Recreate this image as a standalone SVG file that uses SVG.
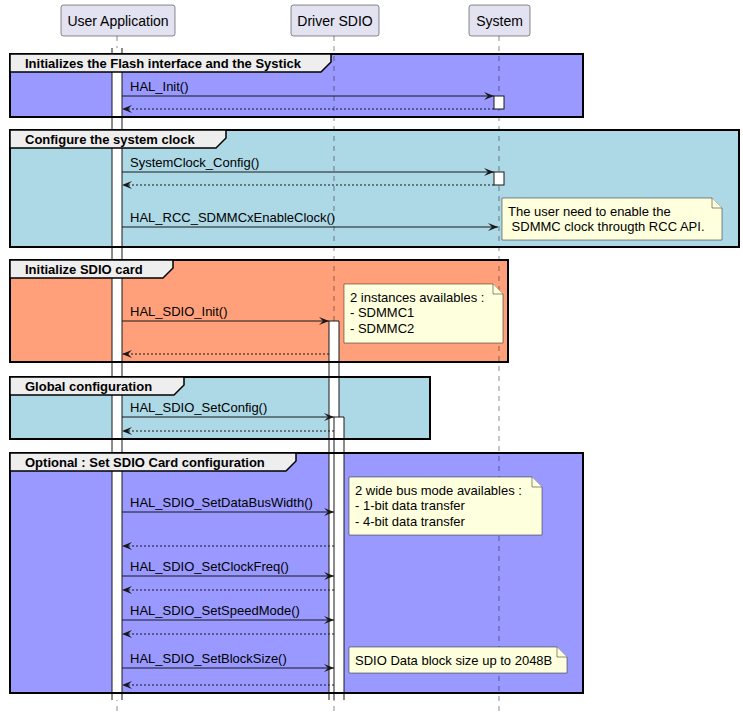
<svg xmlns="http://www.w3.org/2000/svg" width="743" height="716" viewBox="0 0 743 716">
<style>
text{font-family:"Liberation Sans",Arial,sans-serif;fill:#000}
.pt{font-size:14px;text-anchor:middle}
.msg{font-size:13px}
.gh{font-size:13px;font-weight:bold}
.nt{font-size:13px}
.part{fill:#E2E2F0;stroke:#181818;stroke-width:0.5}
.life{stroke:#181818;stroke-width:0.5;stroke-dasharray:5,5;fill:none}
.bar{fill:#FFFFFF;stroke:#181818;stroke-width:1}
.barfill{fill:#FFFFFF;stroke:none}
.bedge{stroke:#181818;stroke-width:1;fill:none}
.gframe{fill:none;stroke:#000;stroke-width:2}
.tab{fill:#EEEEEE;stroke:#000;stroke-width:1.5}
.call{stroke:#181818;stroke-width:1;fill:none;marker-end:url(#ah)}
.ret{stroke:#181818;stroke-width:1;fill:none;stroke-dasharray:2,2;marker-end:url(#ah)}
.note{fill:#FEFFDD;stroke:#181818;stroke-width:0.5}
.purple{fill:#9999FF}
.blue{fill:#ADD8E6}
.orange{fill:#FFA07A}
</style>
<defs>
<marker id="ah" markerUnits="userSpaceOnUse" markerWidth="10" markerHeight="8" refX="10" refY="4" orient="auto" overflow="visible">
<path d="M0,0 L10,4 L0,8 L4,4 Z" fill="#181818"/>
</marker>
</defs>

<!-- group backgrounds -->
<g id="group-bg">
<rect class="purple" x="10" y="54" width="573" height="63"/>
<rect class="blue" x="10" y="130" width="729" height="117"/>
<rect class="orange" x="10" y="260" width="498" height="102"/>
<rect class="blue" x="10" y="377" width="420" height="62"/>
<rect class="purple" x="10" y="453" width="573" height="240"/>
</g>

<!-- participants -->
<g id="user-application">
<rect class="part" x="61" y="5" width="114" height="31" rx="2.5"/>
<text class="pt" x="118" y="25.5">User Application</text>
</g>
<g id="driver-sdio">
<rect class="part" x="291" y="5" width="88" height="31" rx="2.5"/>
<text class="pt" x="335" y="25.5">Driver SDIO</text>
</g>
<g id="system">
<rect class="part" x="469" y="5" width="61" height="31" rx="2.5"/>
<text class="pt" x="499.5" y="25.5">System</text>
</g>

<!-- lifelines -->
<g id="lifelines">
<line class="life" x1="117" y1="36" x2="117" y2="716"/>
<line class="life" x1="334" y1="36" x2="334" y2="716"/>
<line class="life" x1="499" y1="36" x2="499" y2="716"/>
</g>

<!-- activations -->
<g id="activations">
<rect class="barfill" x="112" y="48" width="10" height="652"/>
<path class="bedge" d="M112,48 V700 M122,48 V700"/>
<rect class="bar" x="494" y="96" width="10" height="13"/>
<rect class="bar" x="494" y="172" width="10" height="13"/>
<rect class="barfill" x="329" y="321" width="10" height="379"/>
<path class="bedge" d="M329,700 V321 H339 V700"/>
<rect class="barfill" x="334" y="417" width="10" height="283"/>
<path class="bedge" d="M334,700 V417 H344 V700"/>
</g>

<!-- group frames and headers -->
<g id="group-init">
<rect class="gframe" x="10" y="54" width="573" height="63"/>
<polygon class="tab" points="10,54 331,54 331,62 321,72 10,72"/>
<text class="gh" x="25" y="67.5">Initializes the Flash interface and the Systick</text>
</g>
<g id="group-clock">
<rect class="gframe" x="10" y="130" width="729" height="117"/>
<polygon class="tab" points="10,130 226,130 226,138 216,148 10,148"/>
<text class="gh" x="25" y="143.5">Configure the system clock</text>
</g>
<g id="group-sdio-init">
<rect class="gframe" x="10" y="260" width="498" height="102"/>
<polygon class="tab" points="10,260 173,260 173,268 163,278 10,278"/>
<text class="gh" x="25" y="273.5">Initialize SDIO card</text>
</g>
<g id="group-global">
<rect class="gframe" x="10" y="377" width="420" height="62"/>
<polygon class="tab" points="10,377 184,377 184,385 174,395 10,395"/>
<text class="gh" x="25" y="390.5">Global configuration</text>
</g>
<g id="group-optional">
<rect class="gframe" x="10" y="453" width="573" height="240"/>
<polygon class="tab" points="10,453 296,453 296,461 286,471 10,471"/>
<text class="gh" x="25" y="466.5">Optional : Set SDIO Card configuration</text>
</g>

<!-- connectors -->
<g id="connectors">
<path class="call" d="M122,96 H494"/>
<path class="ret" d="M494,109 H122"/>
<path class="call" d="M122,172 H494"/>
<path class="ret" d="M494,185 H122"/>
<path class="call" d="M122,227 H498"/>
<path class="call" d="M122,321 H329"/>
<path class="ret" d="M329,354 H122"/>
<path class="call" d="M122,417 H334"/>
<path class="ret" d="M334,431 H122"/>
<path class="call" d="M122,512 H334"/>
<path class="ret" d="M334,546 H122"/>
<path class="call" d="M122,576 H334"/>
<path class="ret" d="M334,590 H122"/>
<path class="call" d="M122,620 H334"/>
<path class="ret" d="M334,634 H122"/>
<path class="call" d="M122,668 H334"/>
<path class="ret" d="M334,685 H122"/>
</g>

<!-- message labels -->
<g id="labels">
<text class="msg" x="130" y="91">HAL_Init()</text>
<text class="msg" x="130" y="167">SystemClock_Config()</text>
<text class="msg" x="130" y="222">HAL_RCC_SDMMCxEnableClock()</text>
<text class="msg" x="130" y="316">HAL_SDIO_Init()</text>
<text class="msg" x="130" y="412">HAL_SDIO_SetConfig()</text>
<text class="msg" x="130" y="507">HAL_SDIO_SetDataBusWidth()</text>
<text class="msg" x="130" y="571">HAL_SDIO_SetClockFreq()</text>
<text class="msg" x="130" y="615">HAL_SDIO_SetSpeedMode()</text>
<text class="msg" x="130" y="663">HAL_SDIO_SetBlockSize()</text>
</g>

<!-- notes -->
<g id="note-clock">
<path class="note" d="M502,198 H712 L722,208 V240 H502 Z"/>
<path class="note" d="M712,198 V208 H722" fill="none"/>
<text class="nt" x="508" y="216">The user need to enable the</text>
<text class="nt" x="508" y="231" xml:space="preserve"> SDMMC clock througth RCC API.</text>
</g>
<g id="note-instances">
<path class="note" d="M344,284 H493 L503,294 V343 H344 Z"/>
<path class="note" d="M493,284 V294 H503" fill="none"/>
<text class="nt" x="350" y="302">2 instances availables :</text>
<text class="nt" x="350" y="317">- SDMMC1</text>
<text class="nt" x="350" y="333">- SDMMC2</text>
</g>
<g id="note-bus">
<path class="note" d="M349,477 H532 L542,487 V535 H349 Z"/>
<path class="note" d="M532,477 V487 H542" fill="none"/>
<text class="nt" x="355" y="495">2 wide bus mode availables :</text>
<text class="nt" x="355" y="510">- 1-bit data transfer</text>
<text class="nt" x="355" y="526">- 4-bit data transfer</text>
</g>
<g id="note-block">
<path class="note" d="M349,647 H557 L567,657 V673 H349 Z"/>
<path class="note" d="M557,647 V657 H567" fill="none"/>
<text class="nt" x="355" y="665">SDIO Data block size up to 2048B</text>
</g>
</svg>
